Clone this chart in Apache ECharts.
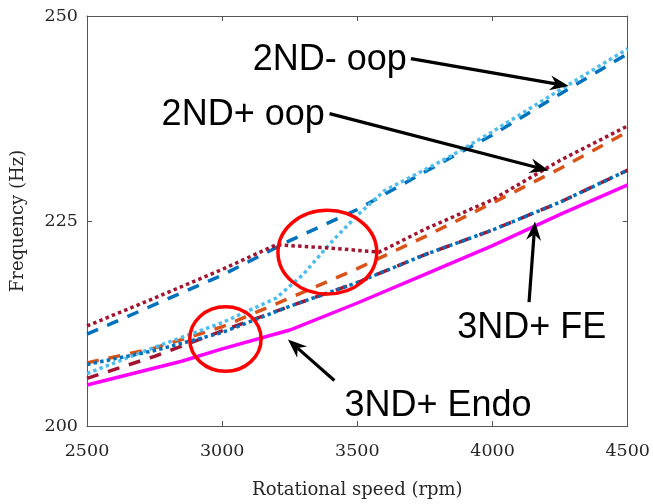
<!DOCTYPE html>
<html>
<head>
<meta charset="utf-8">
<script src="https://cdn.jsdelivr.net/npm/echarts@6/dist/echarts.min.js"></script>
<style>
  html, body { margin: 0; padding: 0; background: #fff; }
  #chart { width: 653px; height: 504px; }
</style>
</head>
<body>
<div id="chart"></div>
<script>
// Natural frequencies vs rotational speed, two models per mode family

// 2ND- oop
const rpmBlueDash = [2500, 2750, 3000, 3250, 3500, 3750, 4000, 4250, 4500];
const hzBlueDash  = [211.2, 214.8, 218.4, 222.6, 226.4, 231.0, 235.5, 240.5, 245.4];
const rpmCyanDot  = [2500, 2750, 3000, 3200, 3300, 3400, 3500, 3600, 3700, 3850, 4000, 4250, 4500];
const hzCyanDot   = [206.4, 209.6, 212.6, 215.6, 218.5, 222.3, 225.7, 228.7, 230.4, 233.0, 235.9, 241.0, 246.0];

// 2ND+ oop
const rpmOrangeDash = [2500, 2750, 3000, 3250, 3500, 3750, 4000, 4250, 4500];
const hzOrangeDash  = [207.7, 209.5, 212.1, 215.6, 219.2, 223.1, 227.2, 231.4, 235.9];
const rpmRedDot = [2500, 2750, 3000, 3200, 3400, 3580, 3750, 4000, 4250, 4500];
const hzRedDot  = [212.2, 215.6, 219.1, 222.1, 221.7, 221.2, 224.0, 227.6, 232.4, 236.6];

// 3ND+ FE
const rpmRedDash = [2500, 2750, 3000, 3250, 3500, 3750, 4000, 4250, 4500];
const hzRedDash  = [205.8, 208.5, 211.6, 214.6, 217.5, 220.9, 223.9, 227.3, 231.2];
const rpmBlueDot = [2500, 2750, 3000, 3250, 3500, 3750, 4000, 4250, 4500];
const hzBlueDot  = [207.5, 209.2, 211.4, 214.6, 217.5, 220.9, 223.9, 227.3, 231.2];

// 3ND+ Endo
const rpmEndo = [2500, 2850, 3000, 3250, 3500, 3750, 4000, 4250, 4500];
const hzEndo  = [205.0, 207.9, 209.4, 211.7, 215.0, 218.5, 222.0, 225.8, 229.4];

// Axis ranges
const xTicks = [2500, 3000, 3500, 4000, 4500];
const yTicks = [200, 225, 250];

// Annotation labels: text, anchor (rpm, Hz)
const labelTexts = ['2ND- oop', '2ND+ oop', '3ND+ FE', '3ND+ Endo'];
const labelAnchors = [[3113, 244.6], [2776, 237.9], [3869, 212.0], [3452, 202.4]];
// Arrows: tail -> tip (rpm, Hz)
const arrowTails = [[3698, 244.8], [3397, 238.1], [4135, 215.1], [3415, 205.55]];
const arrowTips  = [[4282, 241.45], [4208, 231.15], [4157, 224.95], [3243, 210.55]];
// Highlight ellipses: centre (rpm, Hz) and radii (rpm, Hz)
const ellipseCentres = [[3389, 221.2], [3012, 210.6]];
const ellipseRadii   = [[182.7, 5.1], [132, 3.93]];

const zip = (xs, ys) => xs.map((x, i) => [x, ys[i]]);

const chart = echarts.init(document.getElementById('chart'), null, { renderer: 'canvas' });

const tickFont = { fontFamily: 'DejaVu Serif', fontSize: 17.5, color: '#262626', formatter: v => String(v) };
const axisLineStyle = { color: '#555555', width: 1 };

function lineSeries(name, data, color, dash, width) {
  return {
    name, type: 'line', data,
    showSymbol: false, symbol: 'none', smooth: false,
    lineStyle: { color, width, type: dash, cap: 'butt', join: 'miter' },
    emphasis: { disabled: true },
    animation: false
  };
}

const option = {
  animation: false,
  backgroundColor: '#ffffff',
  grid: { left: 87, right: 24, top: 16, bottom: 71, containLabel: false },
  xAxis: [
    {
      type: 'value', min: xTicks[0], max: xTicks[xTicks.length - 1], interval: 500,
      name: 'Rotational speed (rpm)', nameLocation: 'middle', nameGap: 55,
      nameTextStyle: { fontFamily: 'DejaVu Serif', fontSize: 18, color: '#262626' },
      axisLine: { show: true, lineStyle: axisLineStyle },
      axisTick: { show: true, inside: true, length: 5, lineStyle: axisLineStyle },
      axisLabel: Object.assign({ margin: 16 }, tickFont),
      splitLine: { show: false }
    },
    {
      type: 'value', position: 'top', min: xTicks[0], max: xTicks[xTicks.length - 1], interval: 500,
      axisLine: { show: true, lineStyle: axisLineStyle },
      axisTick: { show: true, inside: true, length: 5, lineStyle: axisLineStyle },
      axisLabel: { show: false },
      splitLine: { show: false }
    }
  ],
  yAxis: [
    {
      type: 'value', min: yTicks[0], max: yTicks[yTicks.length - 1], interval: 25,
      name: 'Frequency (Hz)', nameLocation: 'middle', nameGap: 60,
      nameTextStyle: { fontFamily: 'DejaVu Serif', fontSize: 18, color: '#262626' },
      axisLine: { show: true, lineStyle: axisLineStyle },
      axisTick: { show: true, inside: true, length: 5, lineStyle: axisLineStyle },
      axisLabel: Object.assign({ margin: 9 }, tickFont),
      splitLine: { show: false }
    },
    {
      type: 'value', position: 'right', min: yTicks[0], max: yTicks[yTicks.length - 1], interval: 25,
      axisLine: { show: true, lineStyle: axisLineStyle },
      axisTick: { show: true, inside: true, length: 5, lineStyle: axisLineStyle },
      axisLabel: { show: false },
      splitLine: { show: false }
    }
  ],
  series: [
    lineSeries('2ND- oop A', zip(rpmBlueDash, hzBlueDash), '#0072BD', [12, 10], 3.5),
    lineSeries('2ND+ oop A', zip(rpmOrangeDash, hzOrangeDash), '#D95319', [12, 10], 3.5),
    lineSeries('3ND+ FE A', zip(rpmRedDash, hzRedDash), '#A2142F', [12, 10], 3.5),
    lineSeries('3ND+ Endo', zip(rpmEndo, hzEndo), '#FF00FF', 'solid', 3.5),
    lineSeries('2ND- oop B', zip(rpmCyanDot, hzCyanDot), '#4DBEEE', [3.5, 3.2], 3.5),
    lineSeries('2ND+ oop B', zip(rpmRedDot, hzRedDot), '#A2142F', [3.5, 3.2], 3.5),
    lineSeries('3ND+ FE B', zip(rpmBlueDot, hzBlueDot), '#0072BD', [3.5, 3.2], 3.5)
  ]
};

chart.setOption(option);

// Annotations placed in data coordinates
function px(p) { return chart.convertToPixel({ xAxisIndex: 0, yAxisIndex: 0 }, p); }

const graphics = [];

ellipseCentres.forEach((c, i) => {
  const cp = px(c);
  const e = px([c[0] + ellipseRadii[i][0], c[1] + ellipseRadii[i][1]]);
  graphics.push({
    type: 'ellipse', z: 100,
    shape: { cx: cp[0], cy: cp[1], rx: Math.abs(e[0] - cp[0]), ry: Math.abs(cp[1] - e[1]) },
    style: { fill: 'none', stroke: '#FF0000', lineWidth: 3.5 }
  });
});

arrowTails.forEach((t, i) => {
  const a = px(t), b = px(arrowTips[i]);
  const dx = b[0] - a[0], dy = b[1] - a[1];
  const len = Math.hypot(dx, dy);
  const ux = dx / len, uy = dy / len;
  const nx = -uy, ny = ux;
  const headLen = 19, halfW = 7.5, notch = 13;
  const base = [b[0] - ux * headLen, b[1] - uy * headLen];
  const notchPt = [b[0] - ux * notch, b[1] - uy * notch];
  graphics.push({
    type: 'line', z: 100,
    shape: { x1: a[0], y1: a[1], x2: notchPt[0], y2: notchPt[1] },
    style: { stroke: '#000000', lineWidth: 3.2 }
  });
  graphics.push({
    type: 'polygon', z: 100,
    shape: { points: [b, [base[0] + nx * halfW, base[1] + ny * halfW], notchPt, [base[0] - nx * halfW, base[1] - ny * halfW]] },
    style: { fill: '#000000', stroke: 'none' }
  });
});

labelTexts.forEach((txt, i) => {
  const p = px(labelAnchors[i]);
  graphics.push({
    type: 'text', z: 101, x: p[0], y: p[1],
    style: {
      text: txt, fill: '#000000',
      font: '36px "Liberation Sans", Arial, sans-serif',
      textAlign: 'left', textVerticalAlign: 'middle', verticalAlign: 'middle'
    }
  });
});

chart.setOption({ graphic: graphics });
</script>
</body>
</html>
